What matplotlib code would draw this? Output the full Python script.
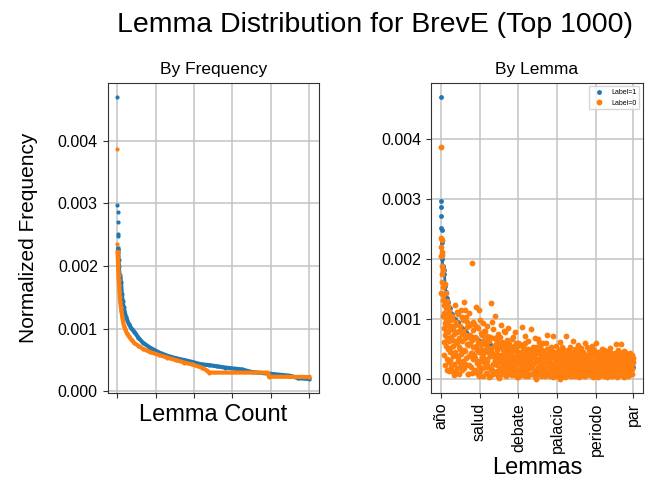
import numpy as np
import matplotlib
matplotlib.use("Agg")
import matplotlib.pyplot as plt
from matplotlib.ticker import MultipleLocator

plt.rcParams['font.family'] = ['Liberation Sans', 'DejaVu Sans']

# sorted normalized frequencies read off the "By Frequency" panel
# (lemma rank, value x 1e-3); first few ranks are isolated dots
blue_head_idx = [0, 1, 2, 3, 4, 5, 6]
blue_head_val = [4.70, 2.97, 2.87, 2.71, 2.52, 2.48, 2.28]
blue_idx = [6, 7, 9, 11, 13, 16, 20, 24, 28, 33, 38, 47, 60, 75, 90, 110, 133,
            170, 219, 260, 305, 350, 391, 440, 478, 520, 564, 650, 700, 800,
            900, 943, 1000]
blue_val = [2.28, 2.10, 2.00, 1.88, 1.85, 1.82, 1.75, 1.55, 1.45, 1.35, 1.28,
            1.18, 1.08, 1.00, 0.95, 0.86, 0.78, 0.70, 0.62, 0.57, 0.53, 0.50,
            0.47, 0.43, 0.42, 0.40, 0.38, 0.35, 0.31, 0.28, 0.25, 0.21, 0.20]

orange_head_idx = [0, 1, 2]
orange_head_val = [3.87, 2.35, 2.22]
orange_idx = [2, 3, 4, 5, 6, 7, 8, 10, 12, 14, 16, 19, 22, 26, 30, 35, 42, 50,
              60, 75, 90, 110, 133, 170, 219, 260, 305, 350, 391, 440, 470,
              480, 785, 790, 1000]
orange_val = [2.22, 2.15, 2.08, 2.00, 1.92, 1.85, 1.78, 1.70, 1.60, 1.50,
              1.42, 1.35, 1.28, 1.20, 1.12, 1.05, 0.99, 0.93, 0.88, 0.82,
              0.77, 0.73, 0.68, 0.63, 0.58, 0.54, 0.50, 0.46, 0.43, 0.38,
              0.33, 0.30, 0.30, 0.235, 0.23]

# "By Lemma" panel: label=1 in its own order, label=0 scattered (x 1e-4)
lemma_ticks = [0, 200, 400, 600, 800, 989]
lemma_names = ['año', 'salud', 'debate', 'palacio', 'periodo', 'par']
rblue_head_idx = blue_head_idx
rblue_head_val = blue_head_val
rblue_idx = blue_idx[:-1] + [989]
rblue_val = blue_val

# label=0 value for each of the first 48 lemmas
rorange_head = [38.7, 20.5, 14.4, 23.5, 22.0, 21.2, 20.6, 18.8, 17.5, 23.2,
                16.2, 18.1, 15.3, 14.0, 10.5, 13.2, 8.6, 12.4, 6.2, 11.0,
                4.1, 9.3, 15.8, 7.4, 12.8, 2.3, 10.1, 5.6, 14.4, 8.1,
                11.8, 3.4, 9.7, 6.8, 13.1, 1.6, 10.8, 5.0, 12.2, 7.9,
                9.0, 2.9, 11.4, 6.3, 1.4, 10.0, 4.6, 8.4]
# lemmas 48, 51, 54, ...
rorange_a = [
    9.8, 3.2, 7.1, 1.4, 10.6, 5.5, 8.4, 2.6, 6.3, 9.1, 4.0, 1.4, 7.8, 11.2, 3.6, 6.9, 0.9, 8.8, 5.0, 2.1,
    10.3, 6.4, 3.1, 8.0, 1.8, 11.6, 4.7, 7.3, 2.4, 9.5, 5.8, 0.8, 7.0, 3.9, 9.0, 6.1, 2.1, 19.4, 4.4, 8.2,
    5.3, 1.2, 9.2, 3.5, 6.8, 12.1, 2.7, 4.9, 8.6, 11.6, 0.6, 6.0, 3.0, 7.7, 5.1, 1.9, 9.4, 4.2, 6.6, 2.8,
    8.0, 3.4, 5.7, 1.0, 7.2, 4.5, 2.2, 6.4, 0.5, 3.8, 12.7, 5.0, 1.6, 8.3, 4.1, 6.9, 2.5, 10.5, 3.3, 5.9,
    1.3, 4.8, 7.5, 2.9, 0.2, 5.4, 3.6, 9.0, 1.8, 6.2, 4.0, 2.3, 5.7, 0.9, 3.1, 7.9, 4.6, 1.5, 6.0, 2.7,
    8.5, 3.9, 1.1, 5.2, 2.6, 4.3, 0.7, 6.7, 3.0, 1.9, 5.5, 7.8, 2.2, 4.7, 0.4, 3.5, 6.1, 1.4, 4.0, 2.9,
    5.8, 1.7, 3.3, 8.7, 2.4, 4.9, 0.9, 3.8, 7.2, 1.3, 5.0, 2.8, 4.4, 0.6, 6.4, 3.1, 1.9, 4.6, 8.3, 2.2,
    3.7, 0.8, 5.3, 2.5, 4.1, 6.8, 1.5, 3.4, 0.05, 4.8, 2.0, 6.7, 3.0, 1.2, 5.6, 2.6, 4.2, 0.7, 3.6, 6.0,
    1.8, 4.5, 2.9, 0.5, 6.0, 3.2, 1.4, 7.4, 4.0, 2.3, 5.1, 0.9, 3.5, 1.7, 4.7, 2.6, 0.4, 7.2, 3.9, 1.6,
    4.3, 2.1, 5.6, 0.7, 3.0, 1.5, 4.8, 2.7, 6.2, 0.05, 3.6, 1.9, 4.1, 2.4, 5.0, 1.1, 3.3, 0.6, 7.2, 2.8,
    1.4, 4.6, 2.2, 3.8, 0.8, 5.3, 1.7, 3.1, 4.4, 0.5, 2.6, 6.4, 1.2, 3.7, 2.0, 4.9, 0.9, 3.4, 1.6, 5.7,
    2.9, 0.4, 4.2, 1.8, 3.5, 5.2, 1.0, 2.7, 4.6, 0.6, 3.2, 1.5, 6.1, 2.3, 4.0, 0.8, 3.6, 1.9, 4.8, 2.5,
    0.7, 3.9, 1.6, 5.5, 2.4, 0.3, 4.3, 1.2, 3.0, 2.1, 6.0, 0.9, 3.7, 1.7, 4.5, 2.6, 0.5, 3.3, 1.4, 4.1,
    2.2, 5.0, 0.8, 3.4, 1.9, 4.2, 1.1, 2.8, 0.4, 3.8, 1.6, 4.7, 2.5, 0.7, 3.1, 1.3, 4.4, 2.0, 0.6, 3.6,
    1.5, 4.0, 2.6, 0.9, 5.9, 1.8, 3.3, 0.5, 2.4, 4.5, 1.2, 3.0, 5.9, 0.8, 2.7, 4.1, 1.6, 3.5, 0.4, 2.2,
    4.6, 1.0, 3.2, 2.0, 0.6, 3.9, 1.4, 2.8, 4.3, 0.9, 3.1, 1.7, 2.5, 3.6]
# lemmas 49, 52, 55, ...
rorange_b = [
    5.2, 8.9, 2.0, 6.6, 10.1, 3.8, 0.7, 7.5, 12.4, 4.6, 9.6, 1.9, 6.0, 3.0, 10.9, 5.4, 8.1, 2.7, 11.5, 4.2,
    7.6, 1.5, 9.8, 4.9, 12.9, 2.6, 6.9, 10.4, 3.5, 8.7, 0.9, 5.7, 11.0, 2.3, 7.4, 4.3, 9.2, 1.1, 6.5, 3.3,
    9.6, 4.0, 7.0, 1.6, 5.5, 8.8, 3.1, 0.8, 6.2, 2.2, 4.6, 9.9, 1.3, 5.9, 3.7, 7.3, 0.6, 4.4, 8.1, 2.0,
    4.9, 1.0, 6.3, 3.0, 8.9, 2.1, 5.2, 0.4, 3.9, 7.0, 1.7, 4.3, 9.6, 2.6, 0.8, 5.5, 3.2, 6.8, 1.2, 4.0,
    6.4, 2.4, 0.6, 4.1, 1.5, 7.1, 3.4, 5.8, 0.9, 2.9, 4.9, 1.3, 8.0, 3.7, 2.0, 5.2, 0.5, 3.0, 6.6, 1.8,
    3.3, 5.9, 2.1, 0.8, 4.5, 1.6, 3.9, 7.1, 2.5, 5.0, 0.9, 3.4, 6.0, 1.2, 4.1, 2.7, 0.3, 5.5, 3.0, 1.7,
    2.6, 4.5, 0.7, 3.6, 5.4, 1.4, 2.9, 4.2, 0.5, 6.0, 2.0, 3.5, 1.1, 5.0, 2.4, 4.0, 0.8, 3.1, 1.8, 4.7,
    5.1, 2.2, 3.9, 1.0, 4.6, 0.6, 2.8, 5.4, 1.6, 3.3, 0.9, 4.3, 2.1, 6.2, 1.3, 3.7, 0.5, 2.6, 4.9, 1.5,
    3.0, 0.7, 4.0, 1.9, 3.3, 5.0, 0.8, 2.5, 1.3, 4.4, 3.0, 0.5, 5.3, 2.2, 1.0, 3.8, 2.7, 4.6, 0.9, 3.4,
    1.1, 3.8, 0.5, 2.9, 4.6, 1.8, 0.9, 3.5, 2.2, 4.3, 1.4, 5.3, 0.7, 3.1, 1.7, 4.2, 2.5, 0.4, 3.9, 1.3,
    3.4, 0.9, 4.9, 2.6, 1.3, 3.9, 0.6, 4.5, 2.0, 3.3, 1.0, 4.1, 2.8, 0.5, 5.0, 1.5, 3.7, 2.3, 4.6, 0.8,
    4.4, 1.6, 2.8, 0.7, 4.9, 2.1, 3.6, 0.9, 1.8, 4.2, 2.6, 0.5, 3.3, 1.2, 5.4, 2.0, 0.8, 4.0, 2.9, 1.4,
    3.5, 1.9, 4.4, 0.8, 3.0, 2.5, 1.2, 4.8, 0.6, 3.8, 1.5, 2.8, 4.2, 0.4, 3.2, 1.0, 4.6, 2.2, 3.6, 0.9,
    4.0, 1.3, 3.0, 0.6, 4.8, 2.4, 3.6, 1.7, 4.4, 2.0, 0.9, 3.3, 1.2, 5.2, 2.7, 0.5, 3.9, 1.4, 4.2, 2.5,
    3.2, 0.7, 4.4, 1.7, 2.9, 0.4, 3.8, 2.2, 4.9, 1.1, 3.4, 0.8, 2.0, 4.3, 1.4, 3.0, 0.6, 4.7, 2.4, 3.9,
    1.8, 3.5, 0.9, 4.2, 2.6, 1.2, 3.4, 0.7, 2.1, 3.8, 1.5, 4.0, 0.9, 2.9]

BLUE = '#1f77b4'
ORANGE = '#ff7f0e'

fig = plt.figure(figsize=(6.48, 4.9), dpi=100)
ax1 = fig.add_axes([0.166, 0.198, 0.326, 0.633])
ax2 = fig.add_axes([0.665, 0.198, 0.327, 0.633])

# --- by frequency
ax1.plot(blue_head_idx, np.array(blue_head_val) * 1e-3, 'o', color=BLUE, ms=3, mew=0)
ax1.plot(blue_idx, np.array(blue_val) * 1e-3, '-o', color=BLUE, ms=3, mew=0, lw=3)
ax1.plot(orange_head_idx, np.array(orange_head_val) * 1e-3, 'o', color=ORANGE, ms=3, mew=0)
ax1.plot(orange_idx, np.array(orange_val) * 1e-3, '-o', color=ORANGE, ms=3, mew=0, lw=3)
ax1.set_title('By Frequency', fontsize=12.5)
ax1.set_xlabel('Lemma Count', fontsize=17, labelpad=1)
ax1.set_ylabel('Normalized Frequency', fontsize=15, labelpad=14)
ax1.set_xticks([0, 200, 400, 600, 800, 1000])
ax1.set_xticklabels([])

# --- by lemma
n0 = len(rorange_head)
x_or = np.concatenate([np.arange(n0),
                       n0 + 3 * np.arange(len(rorange_a)),
                       n0 + 1 + 3 * np.arange(len(rorange_b))])
y_or = np.array(rorange_head + rorange_a + rorange_b) * 1e-4
ax2.plot(rblue_idx, np.array(rblue_val) * 1e-3, '-', color=BLUE, lw=2)
ax2.plot(rblue_idx, np.array(rblue_val) * 1e-3, 'o', color=BLUE, ms=3.5, mew=0)
ax2.plot(rblue_head_idx, np.array(rblue_head_val) * 1e-3, 'o', color=BLUE, ms=3.5, mew=0,
         label='Label=1')
ax2.plot(x_or, y_or, 'o', color=ORANGE, ms=4.2, mew=0, label='Label=0')
ax2.set_title('By Lemma', fontsize=12.5)
ax2.set_xlabel('Lemmas', fontsize=17, labelpad=1)
ax2.set_xticks(lemma_ticks)
ax2.set_xticklabels(lemma_names, rotation=90)
ax2.legend(loc='upper right', fontsize=5)

for ax in (ax1, ax2):
    ax.yaxis.set_major_locator(MultipleLocator(0.001))
    ax.grid(True, color='#c4c4c4', lw=1.1)
    ax.set_axisbelow(True)
    ax.tick_params(labelsize=11.5, color='#333333')
    for s in ax.spines.values():
        s.set_color('#333333')

fig.suptitle('Lemma Distribution for BrevE (Top 1000)', fontsize=20.5, x=0.578, y=0.975)

fig.savefig('out.png', dpi=100)
